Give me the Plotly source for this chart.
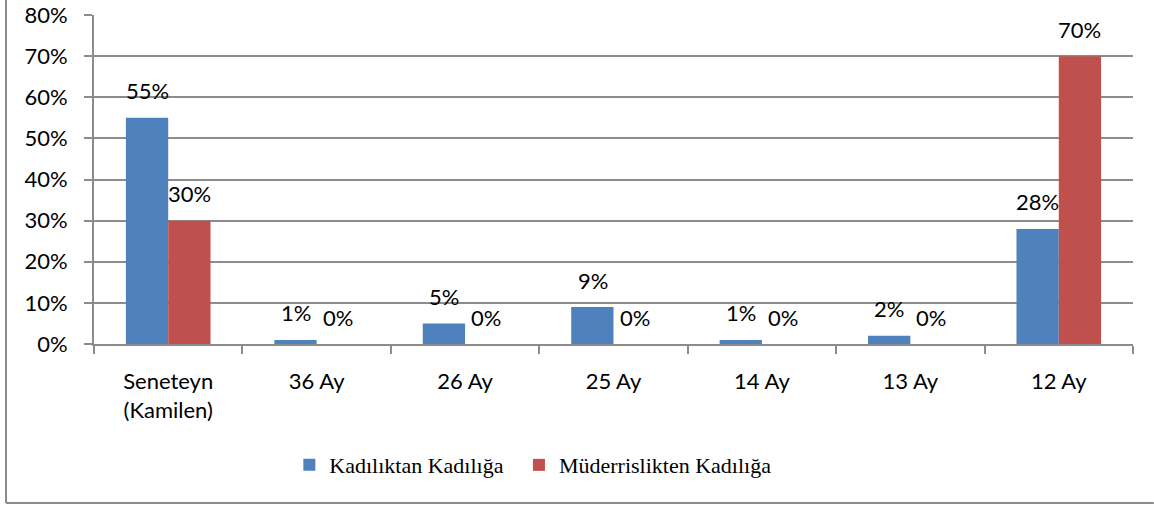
import plotly.graph_objects as go

categories = ["Seneteyn<br>(Kamilen)", "36 Ay", "26 Ay", "25 Ay", "14 Ay", "13 Ay", "12 Ay"]
kadiliktan = [55, 1, 5, 9, 1, 2, 28]
muderrislikten = [30, 0, 0, 0, 0, 0, 70]
series_names = ["Kadılıktan Kadılığa", "Müderrislikten Kadılığa"]
y_ticks = [0, 10, 20, 30, 40, 50, 60, 70, 80]

label_font = dict(family="Lato, Open Sans, sans-serif", size=22, color="#000000")
legend_font = dict(family="Liberation Serif, Times New Roman, serif", size=22, color="#000")

fig = go.Figure()
fig.add_trace(go.Bar(
    x=categories, y=kadiliktan, name=series_names[0], legend="legend",
    marker=dict(color="#4F81BD", line=dict(width=0)),
))
fig.add_trace(go.Bar(
    x=categories, y=muderrislikten, name=series_names[1], legend="legend2",
    marker=dict(color="#C0504D", line=dict(width=0)),
))

# data labels above each bar (Excel-style padding)
for vals, shift in ((kadiliktan, -21), (muderrislikten, 21)):
    for c, v in zip(categories, vals):
        fig.add_annotation(x=c, y=v, xref="x", yref="y", text=f"{v}%", showarrow=False,
                           xshift=shift, yshift=27, yanchor="middle", font=label_font)

fig.update_layout(
    width=1154, height=505,
    margin=dict(l=94, r=21, t=15, b=161),
    paper_bgcolor="white", plot_bgcolor="white",
    barmode="group", bargap=0.43, bargroupgap=0,
    font=label_font,
    showlegend=True,
    legend=dict(orientation="h", x=0.188, xanchor="left", y=-0.368, yanchor="middle",
                bgcolor="rgba(0,0,0,0)", font=legend_font, itemwidth=30),
    legend2=dict(orientation="h", x=0.409, xanchor="left", y=-0.368, yanchor="middle",
                 bgcolor="rgba(0,0,0,0)", font=legend_font, itemwidth=30),
    xaxis=dict(
        type="category", showline=True, linecolor="#8c8c8c", linewidth=2,
        ticks="outside", tickson="boundaries", ticklen=8, tickcolor="#8c8c8c", tickwidth=2,
        tickfont=label_font, showgrid=False, automargin=False, ticklabelstandoff=17,
    ),
    yaxis=dict(
        range=[0, 80.02], tickvals=y_ticks, ticktext=[f"{v}%" for v in y_ticks],
        showline=True, linecolor="#8c8c8c", linewidth=2,
        ticks="outside", ticklen=8, tickcolor="#8c8c8c", tickwidth=2,
        showgrid=True, gridcolor="#8c8c8c", gridwidth=2,
        tickfont=label_font, zeroline=False, automargin=False, ticklabelstandoff=12,
        ticklabeloverflow="allow",
    ),
)

fig.add_shape(type="line", xref="paper", yref="paper", x0=-88/1039, x1=-88/1039, y0=-0.4833, y1=1.06,
              line=dict(color="#8c8c8c", width=2))
fig.add_shape(type="line", xref="paper", yref="paper", x0=-88/1039, x1=1.02, y0=-0.4833, y1=-0.4833,
              line=dict(color="#8c8c8c", width=2))

fig.write_html("out.html", config={"displayModeBar": False},
               post_script="document.body.style.margin='0';")
